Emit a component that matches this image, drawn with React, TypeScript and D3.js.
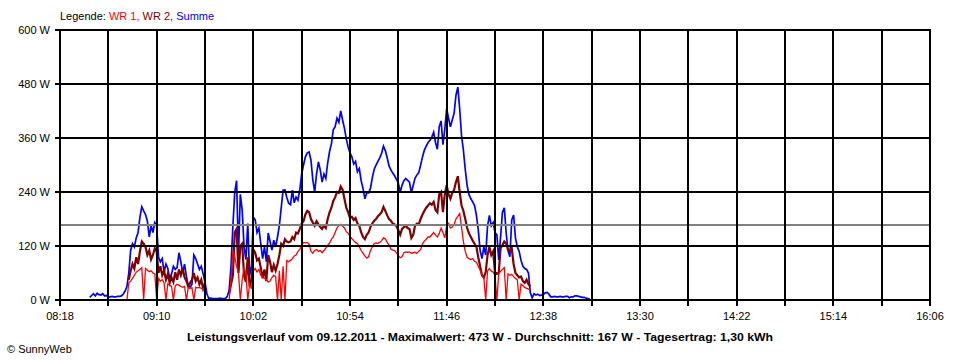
import React from "react";
import * as d3 from "d3";

// ---- data (W per minute) ----
const axisStart = "08:18";
const axisEnd = "16:06";
const xTickLabels = ["08:18", "09:10", "10:02", "10:54", "11:46", "12:38", "13:30", "14:22", "15:14", "16:06"];
const yTickValues = [0, 120, 240, 360, 480, 600];
const averageW = 167;

const summeStart = "08:34";
const summeValues = [
  6, 10, 14, 9, 15, 12, 11, 14, 9, 10,
  6, 7, 8, 7, 7, 8, 8, 9, 13, 20,
  30, 60, 110, 125, 118, 138, 150, 184, 207, 198,
  190, 175, 140, 165, 150, 172, 165, 95, 85, 92,
  62, 80, 70, 48, 58, 75, 68, 72, 105, 85,
  60, 80, 52, 32, 28, 35, 100, 92, 80, 68,
  75, 58, 40, 14, 4, 4, 3, 3, 3, 3,
  4, 3, 3, 3, 8, 22, 75, 165, 240, 265,
  100, 235, 200, 118, 90, 170, 55, 75, 184, 178,
  150, 160, 125, 92, 118, 85, 149, 130, 111, 133,
  118, 140, 165, 205, 244, 245, 228, 215, 212, 244,
  216, 229, 222, 245, 280, 300, 318, 327, 329, 311,
  267, 240, 280, 307, 289, 262, 280, 270, 305, 330,
  347, 378, 385, 404, 395, 420, 400, 382, 358, 340,
  327, 318, 302, 308, 285, 292, 265, 248, 225, 238,
  238, 248, 272, 290, 300, 308, 316, 326, 342, 332,
  316, 298, 289, 282, 276, 268, 260, 240, 255, 265,
  270, 266, 262, 238, 255, 271, 278, 283, 300, 318,
  333, 342, 350, 355, 362, 373, 350, 335, 385, 398,
  345, 380, 425, 404, 385, 400, 415, 455, 473, 425,
  365, 333, 290, 255, 234, 225, 218, 210, 188, 156,
  110, 92, 118, 100, 165, 188, 165, 172, 150, 145,
  89, 140, 195, 205, 150, 110, 96, 178, 189, 138,
  118, 108, 88, 75, 70, 68, 60, 16, 5, 14,
  11, 13, 10, 11, 12, 16, 17, 13, 7, 7,
  8, 7, 7, 8, 7, 7, 8, 8, 5, 7,
  7, 9, 9, 8, 7, 6, 6, 4, 3, 2,
];

const wr1MorningStart = "08:54";
const wr1MorningValues = [
  0, 38, 42, 48, 55, 62, 65, 68, 72, 0,
  70, 66, 63, 65, 60, 58, 0, 48, 42, 45,
  38, 0, 36, 33, 30, 0, 32, 35, 33, 30,
  28, 30, 0, 28, 26, 27, 0, 28, 27, 28,
  26, 25, 22,
];
const wr1MiddayStart = "09:49";
const wr1MiddayValues = [
  0, 45, 110, 95, 75, 60, 0, 45, 70, 60,
  0, 35, 25, 65, 70, 62, 68, 55, 52, 48,
  45, 40, 42, 50, 55, 52, 0, 65, 0, 75,
  0, 88, 85, 88, 92, 98, 100, 108, 112, 122,
  128, 127, 128, 124, 108, 104, 110, 112, 108, 110,
  105, 110, 115, 122, 126, 135, 140, 150, 160, 166,
  168, 164, 160, 152, 148, 142, 136, 132, 128, 125,
  118, 110, 104, 98, 93, 96, 110, 118, 125, 127,
  126, 128, 132, 138, 136, 128, 122, 113, 111, 110,
  105, 98, 94, 96, 105, 107, 106, 107, 104, 105,
  106, 104, 108, 112, 125, 131, 135, 140, 140, 145,
  150, 144, 140, 148, 160, 150, 138, 165, 170, 160,
  162, 168, 180, 186, 192, 162, 130, 108, 95, 92,
  90, 92, 86, 84, 75, 66, 55, 48, 0, 65,
  70, 64, 62, 55, 0, 58, 64, 68, 72, 0,
  58, 55, 57, 52, 48, 45, 0, 35, 32, 28,
  26, 24, 22,
];

const wr2MorningStart = "08:55";
const wr2MorningValues = [
  45, 65, 80, 70, 95, 80, 108, 130, 125,
  118, 100, 110, 90, 100, 115, 108, 60, 75, 55,
  65, 45, 58, 38, 50, 40, 62, 45, 68, 55,
  70, 50, 42, 30, 38, 45, 60, 42, 50, 35,
  45, 25, 38,
];
const wr2MiddayStart = "09:49";
const wr2MiddayValues = [
  15, 35, 55, 150, 158, 60, 120, 125, 55, 40,
  95, 30, 45, 112, 105, 88, 92, 72, 48, 68,
  42, 100, 85, 62, 78, 65, 80, 100, 125, 120,
  135, 130, 128, 130, 140, 135, 150, 148, 158, 170,
  175, 190, 198, 195, 180, 172, 165, 175, 168, 162,
  158, 165, 160, 180, 195, 205, 220, 228, 240, 238,
  252, 245, 225, 205, 195, 182, 185, 178, 182, 170,
  165, 150, 140, 135, 145, 150, 162, 170, 176, 180,
  186, 190, 195, 207, 198, 188, 180, 176, 170, 168,
  164, 155, 145, 158, 162, 165, 160, 158, 138, 145,
  165, 170, 168, 180, 190, 198, 205, 210, 215, 212,
  218, 200, 195, 235, 240, 195, 235, 255, 235, 225,
  238, 245, 262, 275, 240, 210, 198, 180, 160, 148,
  140, 132, 125, 118, 95, 75, 55, 50, 62, 100,
  118, 100, 108, 62, 58, 60, 115, 122, 130, 125,
  112, 108, 115, 80, 60, 55, 50, 52, 42, 38,
  45, 35, 30,
];

const titleText =
  "Leistungsverlauf vom 09.12.2011 - Maximalwert: 473 W - Durchschnitt: 167 W - Tagesertrag: 1,30 kWh";

// ---- helpers ----
const toMin = (s: string) => {
  const [h, m] = s.split(":").map(Number);
  return h * 60 + m;
};
const toPoints = (start: string, vals: number[]) =>
  vals.map((v, i) => ({ t: toMin(start) + i, v }));

const W = 960;
const H = 360;
const FONT = "'Liberation Sans', Arial, sans-serif";

export default function App() {
  const x = d3.scaleLinear().domain([toMin(axisStart), toMin(axisEnd)]).range([60, 930]);
  const y = d3.scaleLinear().domain([0, 600]).range([300, 30]);
  const line = d3
    .line<{ t: number; v: number }>()
    .x((d) => x(d.t))
    .y((d) => y(d.v));

  const gridMinutes = d3.range(toMin(axisStart), toMin(axisEnd) + 1, 26);
  const px = (v: number) => Math.round(v);

  const series = [
    { pts: toPoints(summeStart, summeValues), color: "#0000ff", w: 1.7 },
    { pts: toPoints(wr2MorningStart, wr2MorningValues), color: "#800000", w: 2.2 },
    { pts: toPoints(wr2MiddayStart, wr2MiddayValues), color: "#800000", w: 2.2 },
    { pts: toPoints(wr1MorningStart, wr1MorningValues), color: "#ff0000", w: 1.3 },
    { pts: toPoints(wr1MiddayStart, wr1MiddayValues), color: "#ff0000", w: 1.3 },
  ];

  return (
    <svg
      width={W}
      height={H}
      style={{ position: "absolute", left: 0, top: 0, display: "block", background: "#fff" }}
      fontFamily={FONT}
      fontSize={11}
    >
      <rect x={0} y={0} width={W} height={H} fill="#fff" />
      {/* data */}
      {series.map((s, i) => (
        <path key={i} d={line(s.pts) || ""} fill="none" stroke={s.color} strokeWidth={s.w} strokeLinejoin="miter" />
      ))}
      {/* average */}
      <line x1={60} x2={930} y1={px(y(averageW))} y2={px(y(averageW))} stroke="#808080" strokeWidth={2} />
      {/* grid */}
      {gridMinutes.map((m) => (
        <line key={"v" + m} x1={px(x(m))} x2={px(x(m))} y1={29} y2={306} stroke="#000" strokeWidth={2} />
      ))}
      {yTickValues.map((v) => (
        <line key={"h" + v} x1={55} x2={931} y1={px(y(v))} y2={px(y(v))} stroke="#000" strokeWidth={2} />
      ))}
      {/* y labels */}
      {yTickValues.map((v) => (
        <text key={"yl" + v} x={50} y={y(v) + 4} textAnchor="end" fill="#000">
          {v} W
        </text>
      ))}
      {/* x labels */}
      {xTickLabels.map((l) => (
        <text key={"xl" + l} x={x(toMin(l))} y={320} textAnchor="middle" fill="#000">
          {l}
        </text>
      ))}
      {/* legend */}
      <text x={60} y={20} fill="#000">
        Legende: <tspan fill="#ff0000">WR 1,</tspan> <tspan fill="#800000">WR 2,</tspan>{" "}
        <tspan fill="#0000ff">Summe</tspan>
      </text>
      {/* title */}
      <text x={187} y={341} fontWeight="bold" fill="#000" textLength={586} lengthAdjust="spacingAndGlyphs">
        {titleText}
      </text>
      <text x={7} y={353} fill="#000">
        © SunnyWeb
      </text>
    </svg>
  );
}
